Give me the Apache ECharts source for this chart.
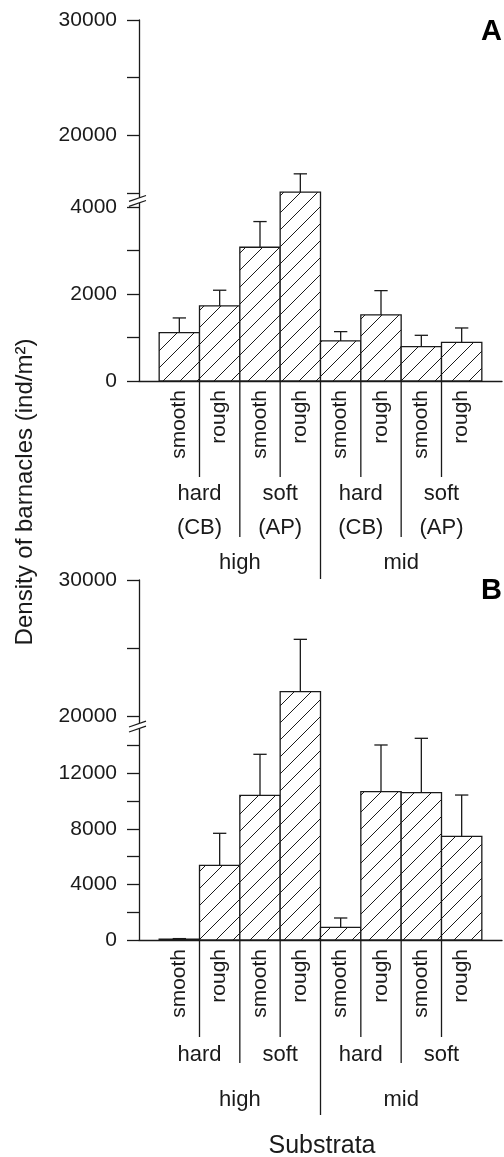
<!DOCTYPE html>
<html><head><meta charset="utf-8">
<script src="https://cdn.jsdelivr.net/npm/echarts@6/dist/echarts.min.js"></script>
<style>html,body{margin:0;padding:0;background:#fff}#c{width:504px;height:1157px}</style>
</head><body><div id="c"></div>
<script>
// ---- data ----
const surfaces   = ['smooth','rough','smooth','rough','smooth','rough','smooth','rough'];
const substrates = ['hard','hard','soft','soft','hard','hard','soft','soft'];
const materials  = ['(CB)','(CB)','(AP)','(AP)','(CB)','(CB)','(AP)','(AP)'];
const shoreLevels = ['high','high','high','high','mid','mid','mid','mid'];

const meanA = [1113, 1728, 3080, 4348, 922, 1521, 791, 891];
const seA   = [339, 362, 591, 422, 215, 560, 261, 330];
const meanB = [60, 5374, 10410, 21830, 913, 10670, 10600, 7460];
const seB   = [40, 2302, 2950, 3830, 670, 3360, 3910, 2970];

const ticksALower  = [0, 1000, 2000, 3000, 4000];
const labelsALower = [0, 2000, 4000];
const ticksAUpper  = [15000, 20000, 25000, 30000];
const labelsAUpper = [20000, 30000];
const ticksBLower  = [0, 2000, 4000, 6000, 8000, 10000, 12000, 14000];
const labelsBLower = [0, 4000, 8000, 12000];
const ticksBUpper  = [20000, 25000, 30000];
const labelsBUpper = [20000, 30000];

const yTitle = 'Density of barnacles (ind/m²)';
const xTitle = 'Substrata';

// ---- layout / style ----
const FONT = "'Liberation Sans', Arial, sans-serif";
const INK = '#1a1a1a';
const LW = 1.3;

const panels = [
  {name:'A', top:20, height:361, lowerMax:8312, upperMin:-1310, upperMax:30000, split:10000, breakAt:14350,
   mean:meanA, se:seA, lowTicks:ticksALower, lowLabels:labelsALower, upTicks:ticksAUpper, upLabels:labelsAUpper,
   showMaterial:true, sepLen:[96, 156, 198], off:{sub:113, mat:147, lvl:182}, nameY:31.7},
  {name:'B', top:580, height:360, lowerMax:25900, upperMin:3665, upperMax:30000, split:18000, breakAt:19320,
   mean:meanB, se:seB, lowTicks:ticksBLower, lowLabels:labelsBLower, upTicks:ticksBUpper, upLabels:labelsBUpper,
   showMaterial:false, sepLen:[97, 123, 175], off:{sub:115, lvl:160}, nameY:591}
];

function toDisp(p, v){
  return v < p.split ? v : (v - p.upperMin) / (p.upperMax - p.upperMin) * p.lowerMax;
}

function txt(x, y, text, size, extra){
  return Object.assign({type:'text', x:x, y:y, silent:true,
    style:{text:text, fill:INK, fontSize:size, fontFamily:FONT,
      textAlign:'center', textVerticalAlign:'middle', align:'center', verticalAlign:'middle'}}, extra||{});
}

function renderBar(params, api){
  const xi = api.value(0);
  const c = api.coord([xi, api.value(1)]);
  const b = api.coord([xi, 0]);
  const e = api.coord([xi, api.value(2)]);
  const w = api.size([1, 0])[0];
  const x0 = c[0] - w/2, x1 = c[0] + w/2, y0 = c[1], y1 = b[1];
  const ch = [];
  ch.push({type:'rect', shape:{x:x0, y:y0, width:w, height:y1-y0}, style:{fill:'#fff'}});
  const step = 17;
  for (let s = Math.ceil((x0 + y0)/step)*step; s < x1 + y1; s += step){
    const xa = Math.max(x0, s - y1), xb = Math.min(x1, s - y0);
    if (xb - xa > 0.3) ch.push({type:'line', shape:{x1:xa, y1:s-xa, x2:xb, y2:s-xb}, style:{stroke:INK, lineWidth:1}});
  }
  ch.push({type:'rect', shape:{x:x0, y:y0, width:w, height:y1-y0}, style:{fill:'none', stroke:INK, lineWidth:LW}});
  ch.push({type:'line', shape:{x1:c[0], y1:y0, x2:c[0], y2:e[1]}, style:{stroke:INK, lineWidth:LW}});
  const cw = w * 0.33;
  ch.push({type:'line', shape:{x1:c[0]-cw/2, y1:e[1], x2:c[0]+cw/2, y2:e[1]}, style:{stroke:INK, lineWidth:LW}});
  return {type:'group', children:ch};
}

function runs(keyFn){
  const out = [];
  let start = 0;
  for (let i = 1; i <= surfaces.length; i++){
    if (i === surfaces.length || keyFn(i) !== keyFn(start)){
      out.push({start:start, end:i-1, idx:start});
      start = i;
    }
  }
  return out;
}

function renderDeco(p, api){
  const ch = [];
  for (let i = 0; i < surfaces.length - 1; i++){
    let lvl = 0;
    if (shoreLevels[i] !== shoreLevels[i+1]) lvl = 2;
    else if (substrates[i] !== substrates[i+1]) lvl = 1;
    const pt = api.coord([i + 0.5, 0]);
    ch.push({type:'line', shape:{x1:pt[0], y1:pt[1], x2:pt[0], y2:pt[1] + p.sepLen[lvl]}, style:{stroke:INK, lineWidth:LW}});
  }
  runs(i => shoreLevels[i] + substrates[i]).forEach(r => {
    const pt = api.coord([(r.start + r.end)/2, 0]);
    ch.push(txt(pt[0], pt[1] + p.off.sub, substrates[r.idx], 22));
    if (p.showMaterial) ch.push(txt(pt[0], pt[1] + p.off.mat, materials[r.idx], 22));
  });
  runs(i => shoreLevels[i]).forEach(r => {
    const pt = api.coord([(r.start + r.end)/2, 0]);
    ch.push(txt(pt[0], pt[1] + p.off.lvl, shoreLevels[r.idx], 22));
  });
  // axis break mark
  const ax = api.coord([-1, 0])[0];
  const yb = api.coord([0, toDisp(p, p.breakAt)])[1];
  const sl = 0.35;
  const L = (d, xo) => [ax + xo, yb + d - xo * sl];
  ch.push({type:'polygon', shape:{points:[L(2.6,-2.5), L(2.6,2.5), L(-2.6,2.5), L(-2.6,-2.5)]}, style:{fill:'#fff'}});
  [-2.5, 2.5].forEach(d => {
    const a = L(d, -10), b = L(d, 7);
    ch.push({type:'line', shape:{x1:a[0], y1:a[1], x2:b[0], y2:b[1]}, style:{stroke:INK, lineWidth:LW}});
  });
  return {type:'group', children:ch};
}

const grids = [], xAxes = [], yAxes = [], series = [], graphics = [];
panels.forEach((p, k) => {
  grids.push({left:139, right:2, top:p.top, height:p.height});
  xAxes.push({type:'value', gridIndex:k, min:-1, max:8, splitLine:{show:false}, axisTick:{show:false},
    axisLine:{show:true, onZero:false, lineStyle:{color:INK, width:LW}},
    axisLabel:{customValues:surfaces.map((s, i) => i), formatter:v => surfaces[Math.round(v)] || '',
      rotate:90, margin:9, fontSize:21, fontFamily:FONT, color:INK}});
  const lab = {margin:22, fontSize:21, fontFamily:FONT, color:INK, formatter:v => String(v)};
  yAxes.push({type:'value', gridIndex:k, min:0, max:p.lowerMax, position:'left', splitLine:{show:false},
    axisLine:{show:true, onZero:false, lineStyle:{color:INK, width:LW}},
    axisTick:{show:true, length:12, customValues:p.lowTicks, lineStyle:{color:INK, width:LW}},
    axisLabel:Object.assign({customValues:p.lowLabels}, lab)});
  yAxes.push({type:'value', gridIndex:k, min:p.upperMin, max:p.upperMax, position:'left', splitLine:{show:false},
    axisLine:{show:false, onZero:false},
    axisTick:{show:true, length:12, customValues:p.upTicks, lineStyle:{color:INK, width:LW}},
    axisLabel:Object.assign({customValues:p.upLabels}, lab)});
  series.push({type:'custom', xAxisIndex:k, yAxisIndex:2*k, clip:false, silent:true, z:3,
    data:p.mean.map((m, i) => [i, toDisp(p, m), toDisp(p, m + p.se[i])]),
    renderItem:renderBar});
  series.push({type:'custom', xAxisIndex:k, yAxisIndex:2*k, clip:false, silent:true, z:4,
    data:[[0, 0]], renderItem:(params, api) => renderDeco(p, api)});
  graphics.push({type:'text', x:502, y:p.nameY, silent:true,
    style:{text:p.name, fill:'#000', fontSize:29, fontWeight:'bold', fontFamily:FONT,
      textAlign:'right', textVerticalAlign:'middle', align:'right', verticalAlign:'middle'}});
});
graphics.push({type:'text', x:25, y:492, rotation:Math.PI/2, silent:true,
  style:{text:yTitle, fill:INK, fontSize:24, fontFamily:FONT, textAlign:'center', textVerticalAlign:'middle', align:'center', verticalAlign:'middle'}});
graphics.push({type:'text', x:322, y:1146, silent:true,
  style:{text:xTitle, fill:INK, fontSize:25, fontFamily:FONT, textAlign:'center', textVerticalAlign:'middle', align:'center', verticalAlign:'middle'}});

const chart = echarts.init(document.getElementById('c'));
chart.setOption({
  animation:false,
  backgroundColor:'#fff',
  grid:grids, xAxis:xAxes, yAxis:yAxes, series:series, graphic:graphics
});
</script></body></html>
